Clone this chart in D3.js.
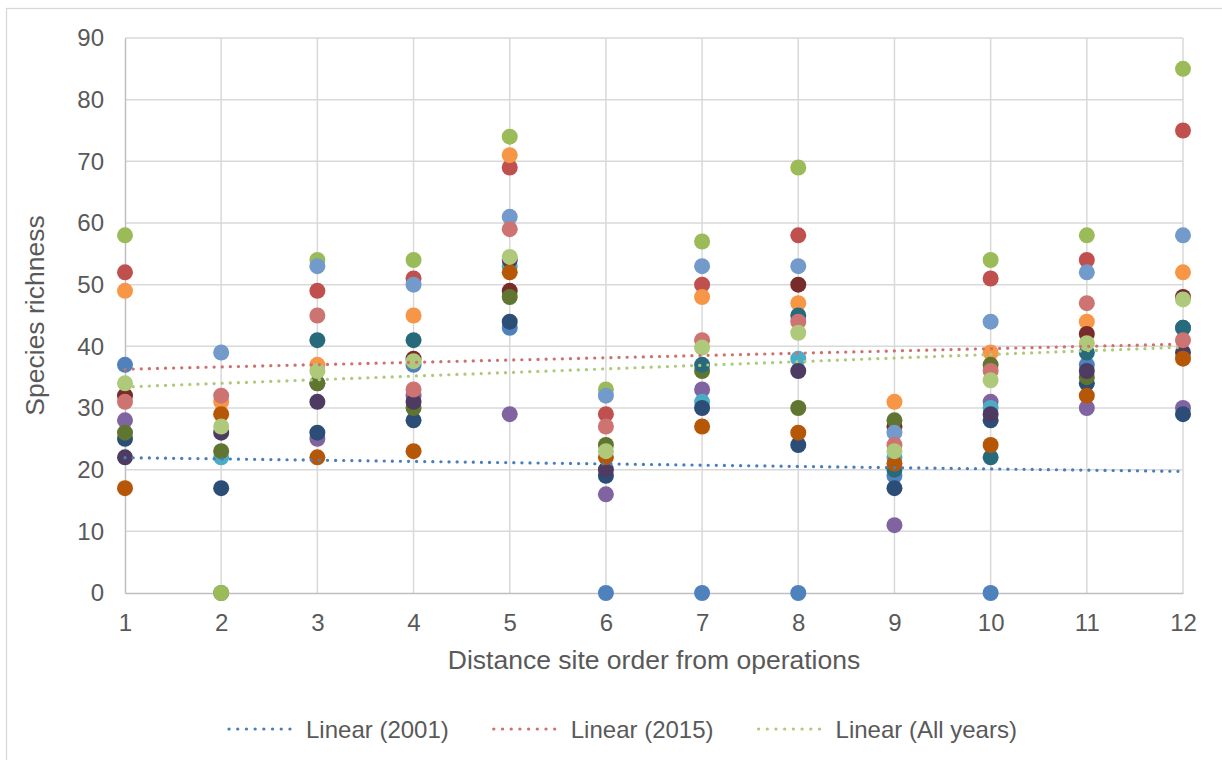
<!DOCTYPE html>
<html>
<head>
<meta charset="utf-8">
<script src="https://cdn.jsdelivr.net/npm/d3@7"></script>
<style>
  html, body { margin: 0; padding: 0; background: #ffffff; }
  svg { display: block; }
  text { font-family: "Liberation Sans", Arial, sans-serif; fill: #595959; }
</style>
</head>
<body>
<svg id="chart" width="1222" height="760"></svg>
<script>
// ---- Data ----
const sites = [1, 2, 3, 4, 5, 6, 7, 8, 9, 10, 11, 12];
const yTicks = [0, 10, 20, 30, 40, 50, 60, 70, 80, 90];
const xTicks = [1, 2, 3, 4, 5, 6, 7, 8, 9, 10, 11, 12];

const seriesNames = ["2001", "S2", "S3", "S4", "S5", "S6", "S7", "S8", "S9", "S10", "S11", "S12", "S13", "2015", "All years"];
const seriesColors = ["#4F81BD", "#C0504D", "#9BBB59", "#8064A2", "#4BACC6", "#F79646",
                      "#2C4D75", "#772C2A", "#5F7530", "#4D3B62", "#276A7C", "#B65708",
                      "#729ACA", "#CD7371", "#AFC97A"];

const s2001      = [37, 0, 34, 37, 43, 0, 0, 0, 19, 0, 37, 43];
const sRed       = [52, null, 49, 51, 69, 29, 50, 58, null, 51, 54, 75];
const sGreen     = [58, 0, 54, 54, 74, 33, 57, 69, null, 54, 58, 85];
const sPurple    = [28, null, 25, 32, 29, 16, 33, null, 11, 31, 30, 30];
const sAqua      = [null, 22, null, null, 53, null, 31, 38, 22, 30, null, null];
const sOrange    = [49, 31, 37, 45, 71, null, 48, 47, 31, 39, 44, 52];
const sDarkBlue  = [25, 17, 26, 28, 44, 19, 30, 24, 17, 28, 34, 29];
const sDarkRed   = [32, null, null, 38, 49, null, null, 50, 27, null, 42, 48];
const sDarkGreen = [26, 23, 34, 30, 48, 24, 36, 30, 28, 37, 35, null];
const sDarkPurp  = [22, 26, 31, 31, 54, 20, null, 36, null, 29, 36, 39];
const sDarkAqua  = [null, null, 41, 41, null, null, 37, 45, 20, 22, 39, 43];
const sDarkOrng  = [17, 29, 22, 23, 52, 22, 27, 26, 21, 24, 32, 38];
const sLightBlue = [null, 39, 53, 50, 61, 32, 53, 53, 26, 44, 52, 58];
const s2015      = [31, 32, 45, 33, 59, 27, 41, 44, 24, 36, 47, 41];
const sAllYears  = [34, 27, 36, 37.6, 54.5, 23, 39.8, 42.2, 23, 34.5, 40.5, 47.6];

const seriesValues = [s2001, sRed, sGreen, sPurple, sAqua, sOrange, sDarkBlue, sDarkRed,
                      sDarkGreen, sDarkPurp, sDarkAqua, sDarkOrng, sLightBlue, s2015, sAllYears];

const trendNames = ["Linear (2001)", "Linear (2015)", "Linear (All years)"];
const trendSeries = [0, 13, 14];
const trendColors = ["#4A7EBB", "#D0706E", "#AFC97A"];

// ---- Layout ----
const svg = d3.select("#chart");
const plot = { left: 125, right: 1183, top: 38, bottom: 593 };

const x = d3.scaleLinear().domain([1, 12]).range([plot.left, plot.right]);
const y = d3.scaleLinear().domain([0, 90]).range([plot.bottom, plot.top]);

// chart border
svg.append("rect")
  .attr("x", 6.5).attr("y", 8.5)
  .attr("width", 1230).attr("height", 770)
  .attr("fill", "#ffffff").attr("stroke", "#d9d9d9").attr("stroke-width", 1.3);

// gridlines
const grid = svg.append("g");
grid.selectAll("line.h").data(yTicks.filter(d => d > 0)).enter().append("line")
  .attr("x1", plot.left).attr("x2", plot.right)
  .attr("y1", d => y(d)).attr("y2", d => y(d))
  .attr("stroke", "#d9d9d9").attr("stroke-width", 1.5);
grid.selectAll("line.v").data(xTicks.filter(d => d > 1)).enter().append("line")
  .attr("x1", d => x(d)).attr("x2", d => x(d))
  .attr("y1", plot.top).attr("y2", plot.bottom)
  .attr("stroke", "#d9d9d9").attr("stroke-width", 1.5);

// axes via d3 axis generators
const xAxis = svg.append("g").attr("transform", `translate(0,${plot.bottom})`)
  .call(d3.axisBottom(x).tickValues(xTicks).tickSize(0).tickPadding(21).tickFormat(d3.format("d")));
xAxis.select(".domain").attr("stroke", "#bfbfbf").attr("stroke-width", 1.5);
xAxis.selectAll("text").style("font-size", "24px").attr("fill", "#595959");

const yAxis = svg.append("g").attr("transform", `translate(${plot.left},0)`)
  .call(d3.axisLeft(y).tickValues(yTicks).tickSize(0).tickPadding(21).tickFormat(d3.format("d")));
yAxis.select(".domain").attr("stroke", "#bfbfbf").attr("stroke-width", 1.5);
yAxis.selectAll("text").style("font-size", "24px").attr("fill", "#595959");

// points
const pts = svg.append("g");
seriesValues.forEach((vals, si) => {
  const data = sites.map((s, i) => ({ x: s, y: vals[i] })).filter(d => d.y !== null);
  pts.append("g").selectAll("circle").data(data).enter().append("circle")
    .attr("cx", d => x(d.x)).attr("cy", d => y(d.y)).attr("r", 8)
    .attr("fill", seriesColors[si]);
});

// linear trendlines (least squares)
function linreg(vals) {
  const d = sites.map((s, i) => [s, vals[i]]).filter(p => p[1] !== null);
  const mx = d3.mean(d, p => p[0]), my = d3.mean(d, p => p[1]);
  const sxy = d3.sum(d, p => (p[0] - mx) * (p[1] - my));
  const sxx = d3.sum(d, p => (p[0] - mx) ** 2);
  const m = sxy / sxx;
  return { m, b: my - m * mx, x0: d3.min(d, p => p[0]), x1: d3.max(d, p => p[0]) };
}
const tl = svg.append("g");
trendSeries.forEach((si, k) => {
  const r = linreg(seriesValues[si]);
  const line = d3.line().x(d => x(d)).y(d => y(r.m * d + r.b));
  tl.append("path").datum([r.x0, r.x1]).attr("d", line)
    .attr("fill", "none").attr("stroke", trendColors[k]).attr("stroke-width", 3.2)
    .attr("stroke-linecap", "round").attr("stroke-dasharray", "0.1 8");
});

// axis titles
svg.append("text").attr("x", (plot.left + plot.right) / 2).attr("y", 660)
  .attr("text-anchor", "middle").attr("dominant-baseline", "central")
  .style("font-size", "26.5px").text("Distance site order from operations");
svg.append("text").attr("transform", `translate(35,${(plot.top + plot.bottom) / 2}) rotate(-90)`)
  .attr("text-anchor", "middle").attr("dominant-baseline", "central")
  .style("font-size", "26.5px").text("Species richness");

// legend
const lg = svg.append("g");
let lx = 229;
const ly = 729;
trendNames.forEach((name, k) => {
  lg.append("line").attr("x1", lx).attr("x2", lx + 69).attr("y1", ly).attr("y2", ly)
    .attr("stroke", trendColors[k]).attr("stroke-width", 3.2)
    .attr("stroke-linecap", "round").attr("stroke-dasharray", "0.1 8.6");
  const t = lg.append("text").attr("x", lx + 77).attr("y", ly)
    .attr("dominant-baseline", "central").style("font-size", "24px").text(name);
  lx += 77 + t.node().getComputedTextLength() + 45;
});
</script>
</body>
</html>
